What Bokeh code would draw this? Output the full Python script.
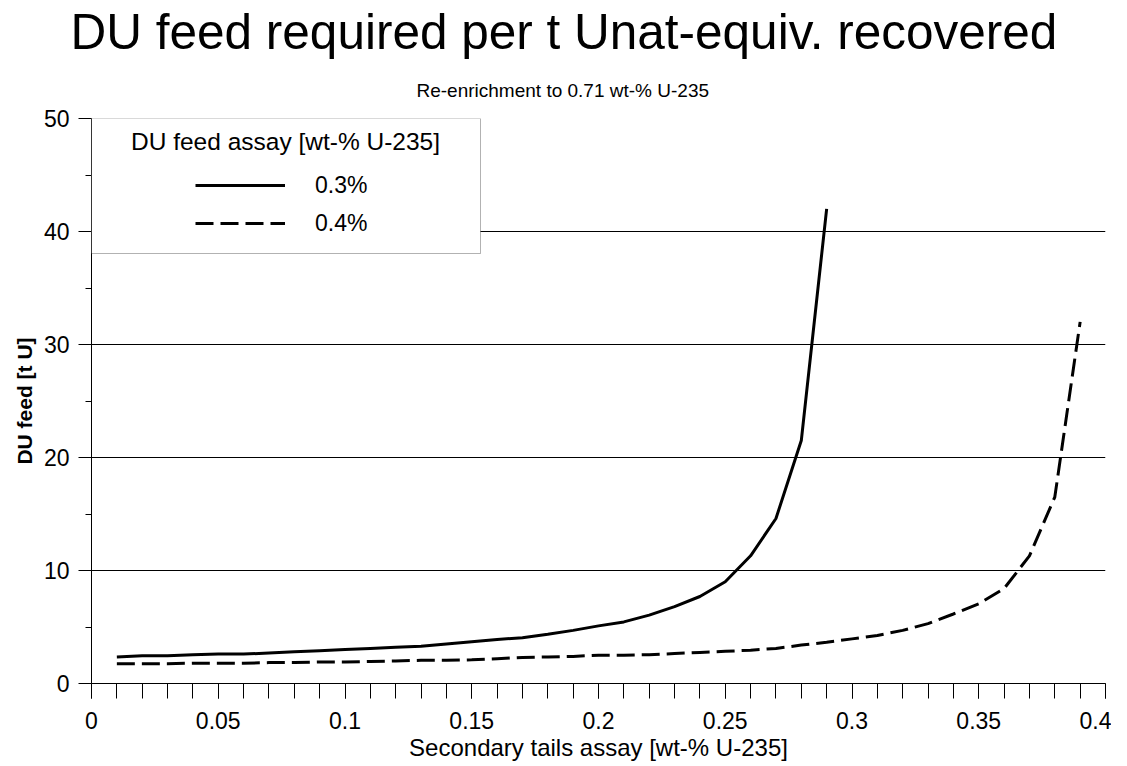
from bokeh.plotting import figure
from bokeh.models import (FixedTicker, Legend, LegendItem, Label, BoxAnnotation,
                          CustomJSTickFormatter, Title)
from bokeh.embed import file_html
from bokeh.resources import INLINE

# ---- data ----
tails_03 = [0.01, 0.02, 0.03, 0.04, 0.05, 0.06, 0.07, 0.08, 0.09, 0.10,
            0.11, 0.12, 0.13, 0.14, 0.15, 0.16, 0.17, 0.18, 0.19, 0.20,
            0.21, 0.22, 0.23, 0.24, 0.25, 0.26, 0.27, 0.28, 0.29]
feed_03 = [2.35, 2.45, 2.45, 2.55, 2.6, 2.6, 2.7, 2.8, 2.9, 3.0,
           3.1, 3.2, 3.3, 3.5, 3.7, 3.9, 4.05, 4.35, 4.7, 5.1,
           5.45, 6.05, 6.8, 7.7, 9.0, 11.3, 14.6, 21.5, 42.0]

tails_04 = [0.01, 0.02, 0.03, 0.04, 0.05, 0.06, 0.07, 0.08, 0.09, 0.10,
            0.11, 0.12, 0.13, 0.14, 0.15, 0.16, 0.17, 0.18, 0.19, 0.20,
            0.21, 0.22, 0.23, 0.24, 0.25, 0.26, 0.27, 0.28, 0.29, 0.30,
            0.31, 0.32, 0.33, 0.34, 0.35, 0.36, 0.37, 0.38, 0.39]
feed_04 = [1.75, 1.75, 1.75, 1.8, 1.8, 1.8, 1.85, 1.85, 1.9, 1.9,
           1.95, 2.0, 2.05, 2.05, 2.1, 2.2, 2.3, 2.35, 2.4, 2.5,
           2.5, 2.55, 2.65, 2.75, 2.85, 2.95, 3.1, 3.4, 3.65, 3.95,
           4.25, 4.7, 5.3, 6.15, 7.05, 8.4, 11.3, 16.5, 32.0]

series_labels = ["0.3%", "0.4%"]
legend_title = "DU feed assay [wt-% U-235]"
title_text = "DU feed required per t Unat-equiv. recovered"
subtitle_text = "Re-enrichment to 0.71 wt-% U-235"
x_label = "Secondary tails assay [wt-% U-235]"
y_label = "DU feed [t U]"

x_major = [0, 0.05, 0.1, 0.15, 0.2, 0.25, 0.3, 0.35, 0.4]
x_minor = [round(i * 0.01, 2) for i in range(41)]
y_major = [0, 10, 20, 30, 40, 50]
y_minor = [5, 15, 25, 35, 45]
x_start, x_end = 0, 0.4
y_start, y_end = 0, 50

FONT = "Liberation Sans"
FW, FH = 1014, 565

p = figure(frame_width=FW, frame_height=FH, x_range=(x_start, x_end), y_range=(y_start, y_end),
           output_backend="svg", toolbar_location=None,
           min_border_left=91, min_border_right=6, min_border_top=118, min_border_bottom=70)
p.outline_line_color = None
p.background_fill_color = "white"
p.border_fill_color = "white"

# axes
p.xaxis.ticker = FixedTicker(ticks=x_major, minor_ticks=x_minor)
p.yaxis.ticker = FixedTicker(ticks=y_major, minor_ticks=y_minor)
p.xaxis.formatter = CustomJSTickFormatter(code="return String(Math.round(tick*100)/100)")
for ax in (p.xaxis, p.yaxis):
    ax.axis_line_color = "black"
    ax.major_tick_line_color = "black"
    ax.minor_tick_line_color = "black"
    ax.major_tick_in = 0
    ax.minor_tick_in = 0
    ax.major_label_text_font = FONT
    ax.major_label_text_font_size = "23px"
    ax.major_label_text_color = "black"
    ax.axis_label_text_font = FONT
    ax.axis_label_text_color = "black"
p.xaxis.major_tick_out = 15
p.xaxis.minor_tick_out = 15
p.yaxis.major_tick_out = 13
p.yaxis.minor_tick_out = 6
p.xaxis.major_label_standoff = 13
p.yaxis.major_label_standoff = 9
p.xaxis.axis_label = x_label
p.xaxis.axis_label_text_font_size = "24px"
p.xaxis.axis_label_text_font_style = "normal"
p.xaxis.axis_label_standoff = 2
p.yaxis.axis_label = y_label
p.yaxis.axis_label_text_font_size = "21px"
p.yaxis.axis_label_text_font_style = "bold"
p.yaxis.axis_label_standoff = 5

p.xgrid.visible = False
p.ygrid.grid_line_color = "black"
p.ygrid.grid_line_width = 1

# series
r1 = p.line(tails_03, feed_03, line_color="black", line_width=3)
r2 = p.line(tails_04, feed_04, line_color="black", line_width=3, line_dash="18 7")

# legend frame
box = BoxAnnotation(left=x_start, top=y_end, right=389, bottom=430,
                    left_units="data", top_units="data", right_units="screen", bottom_units="screen",
                    fill_color="white", fill_alpha=1, line_color="black", line_width=1)
p.add_layout(box)

legend = Legend(items=[LegendItem(label=series_labels[0], renderers=[r1]),
                       LegendItem(label=series_labels[1], renderers=[r2])],
                location=(104, 445), padding=0, spacing=8, glyph_width=90, glyph_height=30,
                label_standoff=30, border_line_color=None, background_fill_alpha=0,
                label_text_font=FONT, label_text_font_size="23px", label_text_color="black")
p.add_layout(legend)

p.add_layout(Label(x=194, y=542, x_units="screen", y_units="screen", text=legend_title,
                   text_align="center", text_baseline="alphabetic", text_font=FONT,
                   text_font_size="24.5px", text_color="black"))

# titles (first added = closest to the plot)
p.add_layout(Title(text=subtitle_text, align="left", offset=325, standoff=36,
                   text_font=FONT, text_font_size="19px", text_font_style="normal",
                   text_color="black"), "above")
p.add_layout(Title(text=title_text, align="left", offset=-21, standoff=2,
                   text_font=FONT, text_font_size="49.5px", text_font_style="normal",
                   text_color="black"), "above")

open("out.html", "w").write(file_html(p, INLINE))
